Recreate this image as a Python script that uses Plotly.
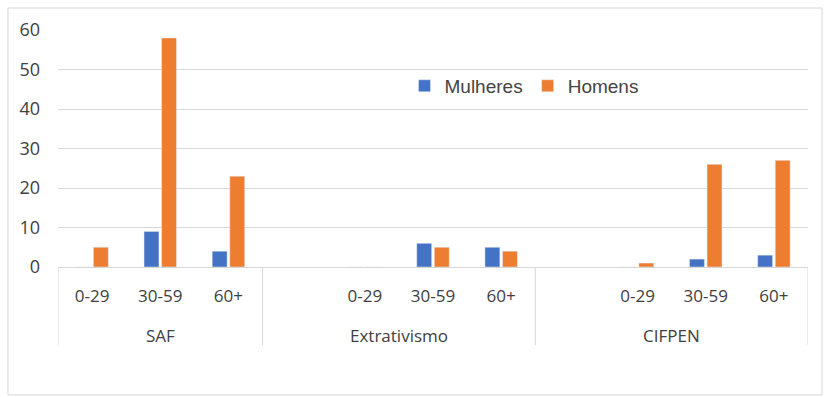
import plotly.graph_objects as go

groups = ["SAF", "SAF", "SAF",
          "Extrativismo", "Extrativismo", "Extrativismo", "Extrativismo",
          "CIFPEN", "CIFPEN", "CIFPEN", "CIFPEN"]
ages = ["0-29", "30-59", "60+",
        "", "0-29", "30-59", "60+",
        "", "0-29", "30-59", "60+"]
mulheres = [0, 9, 4, None, 0, 6, 5, None, 0, 2, 3]
homens = [5, 58, 23, None, 0, 5, 4, None, 1, 26, 27]
group_names = ["SAF", "Extrativismo", "CIFPEN"]

blue = "#4472C4"
orange = "#ED7D31"

keys = [f"{g}|{a}|{i}" for i, (g, a) in enumerate(zip(groups, ages))]

fig = go.Figure()
fig.add_trace(go.Bar(x=keys, y=mulheres, name="Mulheres", marker_color=blue))
fig.add_trace(go.Bar(x=keys, y=homens, name="Homens", marker_color=orange))

lblfont = dict(family="Open Sans, sans-serif", size=17, color="#404040")

# group spans (category index boundaries)
bounds = [-0.5]
for i in range(1, len(groups)):
    if groups[i] != groups[i - 1]:
        bounds.append(i - 0.5)
bounds.append(len(groups) - 0.5)

shapes = [dict(type="rect", xref="paper", yref="paper", x0=-0.0667, x1=1.0187,
               y0=-0.54, y1=1.0928, line=dict(color="#d6d6d6", width=1), layer="below")]
for b in bounds:
    shapes.append(dict(type="line", xref="x", yref="paper", x0=b, x1=b, y0=0, y1=-0.33,
                       line=dict(color="#d6d6d6", width=1)))

annotations = []
for gname, b0, b1 in zip(group_names, bounds[:-1], bounds[1:]):
    annotations.append(dict(x=(b0 + b1) / 2, y=-0.287, xref="x", yref="paper",
                            text=gname, showarrow=False, font=lblfont,
                            xanchor="center", yanchor="middle"))

fig.update_layout(
    width=825, height=397,
    margin=dict(l=58, r=17, t=30, b=130),
    paper_bgcolor="white", plot_bgcolor="white",
    barmode="group", bargap=0.485, bargroupgap=0.15,
    showlegend=True,
    legend=dict(orientation="h", x=0.462, y=0.764, xanchor="left", yanchor="middle",
                font=dict(family="Liberation Sans, Arial, sans-serif", size=19, color="#444444"),
                bgcolor="rgba(0,0,0,0)", itemwidth=30, traceorder="normal"),
    xaxis=dict(type="category", categoryorder="array", categoryarray=keys,
               tickvals=keys, ticktext=ages, range=[-0.5, len(keys) - 0.5],
               showline=True, linecolor="#d6d6d6", linewidth=1,
               ticks="", tickfont=lblfont, ticklabelstandoff=14, showgrid=False),
    yaxis=dict(range=[0, 60], dtick=10, showgrid=True, gridcolor="#d9d9d9", gridwidth=1,
               zeroline=False, showline=False, ticks="",
               tickfont=dict(family="Open Sans, sans-serif", size=18, color="#404040"),
               ticklabelstandoff=17),
    shapes=shapes,
    annotations=annotations,
)

fig.write_html("out.html")
